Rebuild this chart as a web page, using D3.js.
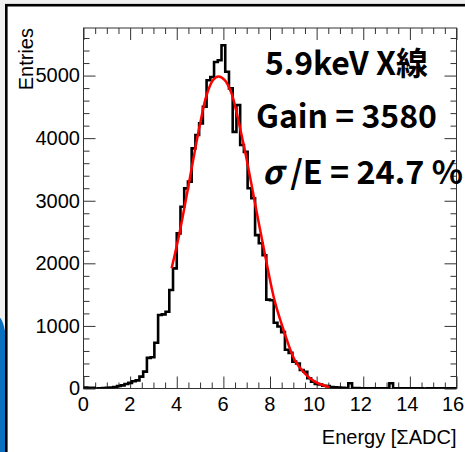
<!DOCTYPE html>
<html><head><meta charset="utf-8">
<script src="https://cdn.jsdelivr.net/npm/d3@7"></script>
<style>html,body{margin:0;padding:0;background:#f0f0f0;} svg{display:block}</style>
</head><body>
<svg id="c" width="465" height="452"></svg>
<script>
// ---- data ----
const binStart = 0;
const binWidth = 0.16;
const counts = [
  15, 12, 10, 0, 5, 8, 10, 15, 25, 40,
  50, 72, 90, 115, 130, 189, 269, 490, 500, 731,
  1174, 1185, 1227, 1573, 1920, 2479, 2904, 3198, 3305, 3837,
  4050, 4236, 4502, 4924, 4977, 5217, 5244, 5484, 5060, 4795,
  4100, 4529, 3890, 3780, 3200, 3040, 2450, 2320, 2130, 1420,
  1410, 1050, 990, 900, 620, 570, 430, 400, 295, 268,
  163, 109, 72, 65, 45, 38, 25, 18, 15, 12,
  8, 85, 8, 6, 5, 5, 4, 3, 3, 2,
  2, 2, 85, 2, 2, 2, 2, 2, 2, 2,
  2, 0, 2, 2, 2, 2, 2, 2, 2, 2
];
const fitX = [3.78, 4.13, 4.56, 4.99, 5.28, 5.56, 5.78, 6.06, 6.35, 6.56, 6.78, 6.99, 7.21, 7.49, 7.78, 8.2, 8.63, 9.06, 9.49, 9.92, 10.56];
const fitY = [1920, 2505, 3357, 4209, 4688, 4928, 4985, 4928, 4715, 4421, 4050, 3677, 3251, 2700, 2150, 1400, 882, 455, 243, 109, 19];
const xMajor = [0, 2, 4, 6, 8, 10, 12, 14, 16];
const yMajor = [0, 1000, 2000, 3000, 4000, 5000];
const xDomain = [0, 16];
const yDomain = [0, 5760];
const xTitle = "Energy [ΣADC]";
const yTitle = "Entries";
const noteLines = [["5.9keV X線"], ["Gain = 3580"], ["σ", " /E = 24.7 %"]];

// ---- drawing ----
const svg = d3.select("#c");
svg.append("rect").attr("width", 465).attr("height", 452).attr("fill", "#f0f0f0");
svg.append("path").attr("d", "M-2,316 C2,318 5,326 7,345 L7,452 L-2,452 Z").attr("fill", "#0b6fc0");
svg.append("rect").attr("x", 6.3).attr("y", 5.2).attr("width", 520).attr("height", 520)
  .attr("fill", "#fff").attr("stroke", "#000").attr("stroke-width", 2.6);

const x = d3.scaleLinear().domain(xDomain).range([83.5, 456.5]);
const y = d3.scaleLinear().domain(yDomain).range([388.5, 28]);

svg.append("clipPath").attr("id", "pc").append("rect")
  .attr("x", x(xDomain[0])).attr("y", y(yDomain[1]))
  .attr("width", x(xDomain[1]) - x(xDomain[0])).attr("height", y(yDomain[0]) - y(yDomain[1]));

const font = "'Liberation Sans', Arial, Helvetica, sans-serif";
const tickCol = "#333";

function styleAxis(g) {
  g.select(".domain").remove();
  g.attr("font-family", font).attr("font-size", 20);
  g.selectAll(".tick line").attr("stroke", tickCol).attr("stroke-width", 1);
  g.selectAll(".tick text").attr("fill", "#000");
}
const xMinor = d3.range(0, 16.001, 0.5).filter(v => !xMajor.includes(v));
const yMinor = d3.range(0, 5700, 200).filter(v => !yMajor.includes(v));

// bottom
const gxb = svg.append("g").attr("transform", `translate(0,${y(0)})`)
  .call(d3.axisBottom(x).tickValues(xMajor).tickSize(-12).tickPadding(8.5).tickFormat(d3.format("d"))).call(styleAxis);
gxb.selectAll(".tick text").attr("dx", d => d >= 16 ? -4 : (d >= 10 ? -3 : -0.8));
svg.append("g").attr("transform", `translate(0,${y(0)})`)
  .call(d3.axisBottom(x).tickValues(xMinor).tickSize(-6).tickFormat("")).call(styleAxis);
// top
svg.append("g").attr("transform", `translate(0,${y(yDomain[1])})`)
  .call(d3.axisTop(x).tickValues(xMajor).tickSize(-12).tickFormat("")).call(styleAxis);
svg.append("g").attr("transform", `translate(0,${y(yDomain[1])})`)
  .call(d3.axisTop(x).tickValues(xMinor).tickSize(-6).tickFormat("")).call(styleAxis);
// left
svg.append("g").attr("transform", `translate(${x(0)},0)`)
  .call(d3.axisLeft(y).tickValues(yMajor).tickSize(-12).tickPadding(3.5).tickFormat(d3.format("d"))).call(styleAxis);
svg.append("g").attr("transform", `translate(${x(0)},0)`)
  .call(d3.axisLeft(y).tickValues(yMinor).tickSize(-6).tickFormat("")).call(styleAxis);
// right
svg.append("g").attr("transform", `translate(${x(xDomain[1])},0)`)
  .call(d3.axisRight(y).tickValues(yMajor).tickSize(-12).tickFormat("")).call(styleAxis);
svg.append("g").attr("transform", `translate(${x(xDomain[1])},0)`)
  .call(d3.axisRight(y).tickValues(yMinor).tickSize(-6).tickFormat("")).call(styleAxis);

// frame
svg.append("rect").attr("x", x(xDomain[0])).attr("y", y(yDomain[1]))
  .attr("width", x(xDomain[1]) - x(xDomain[0])).attr("height", y(yDomain[0]) - y(yDomain[1]))
  .attr("fill", "none").attr("stroke", tickCol).attr("stroke-width", 1);

// histogram
const p = d3.path();
counts.forEach((c, i) => {
  const x0 = x(binStart + i * binWidth), x1 = x(binStart + (i + 1) * binWidth);
  if (i === 0) p.moveTo(x0, y(c)); else p.lineTo(x0, y(c));
  p.lineTo(x1, y(c));
});
svg.append("path").attr("d", p.toString()).attr("fill", "none").attr("stroke", "#000")
  .attr("stroke-width", 2.6).attr("clip-path", "url(#pc)");

// fit
const fitPts = fitX.map((v, i) => [v, fitY[i]]);
svg.append("path").datum(fitPts)
  .attr("d", d3.line().x(d => x(d[0])).y(d => y(d[1])).curve(d3.curveCatmullRom))
  .attr("fill", "none").attr("stroke", "#ff0000").attr("stroke-width", 2.5);

// titles
svg.append("text").attr("x", x(xDomain[1])).attr("y", 444).attr("text-anchor", "end")
  .attr("font-family", font).attr("font-size", 20).text(xTitle);
svg.append("text").attr("transform", `translate(32.5,${y(yDomain[1])}) rotate(-90)`).attr("text-anchor", "end")
  .attr("font-family", font).attr("font-size", 20).text(yTitle);

// annotations
const notePos = [[265, 75, 163], [256, 128, 181], [262, 183.5, 201]];
noteLines.forEach((parts, i) => {
  const t = svg.append("text").attr("x", notePos[i][0]).attr("y", notePos[i][1])
    .attr("font-family", "'Noto Sans CJK JP', 'Noto Sans', sans-serif").attr("font-weight", "bold")
    .attr("font-size", 30).attr("fill", "#000");
  parts.forEach((s, j) => {
    const ts = t.append("tspan").text(s);
    if (i === 2 && j === 0) ts.attr("font-style", "italic");
  });
  const w = t.node().getComputedTextLength();
  t.attr("font-size", 30 * notePos[i][2] / w);
});
</script>
</body></html>
